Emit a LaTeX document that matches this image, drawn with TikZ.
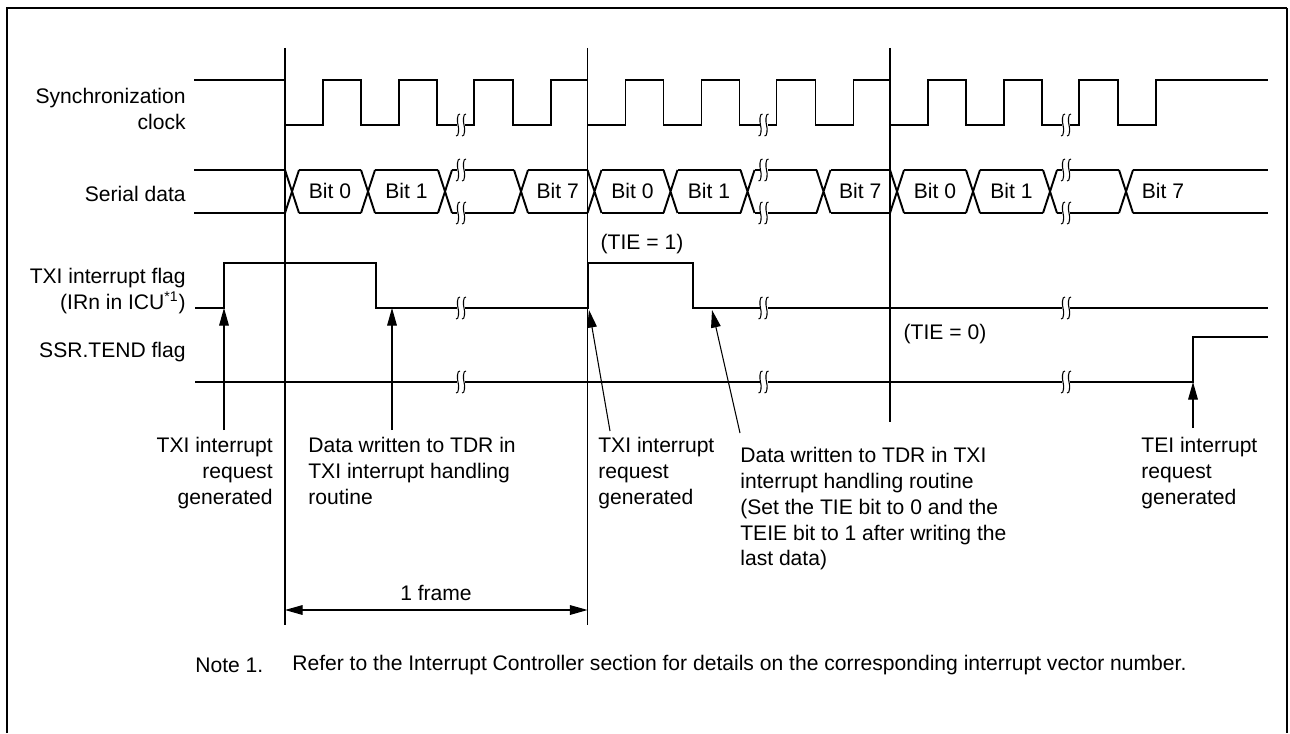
\documentclass[tikz,border=0pt]{standalone}
\usepackage{fontspec}
\setmainfont{Liberation Sans}
\usetikzlibrary{arrows.meta}

\begin{document}
\begin{tikzpicture}[x=0.02cm, y=-0.02cm,
    every node/.style={font=\fontsize{12}{14.7}\selectfont, inner sep=0pt},
    wave/.style={line width=1.1pt, line join=miter},
    guide/.style={line width=0.6pt},
    pointer/.style={line width=0.6pt, -{Triangle[length=10pt, width=5.5pt]}},
    brk/.pic={
        \fill[white] (-1,-4) rectangle (7,4);
        \draw[line width=0.6pt] (2,-11) .. controls (-1,-12) and (-1,-3) .. (0,0) .. controls (1,3) and (1,12) .. (-2,11);
        \draw[line width=0.6pt] (8,-11) .. controls (5,-12) and (5,-3) .. (6,0) .. controls (7,3) and (7,12) .. (4,11);
    }
]
\useasboundingbox (0,0) rectangle (1290,733);

% frame
\draw[line width=1.6pt] (7,733) -- (7,8) -- (1287,8);
\draw[line width=0.8pt] (1287,8) -- (1287,733);

% frame boundaries
\draw[guide] (285,48) -- (285,625);
\draw[guide] (587.5,48) -- (587.5,625);
\draw[guide] (890,48) -- (890,422);

% synchronization clock
\draw[wave] (194,80) \foreach \f in {285,587.5,890} {
    -- (\f,80) -- (\f,125) -- (\f+38,125) -- (\f+38,80) -- (\f+76,80) -- (\f+76,125)
    -- (\f+114,125) -- (\f+114,80) -- (\f+152,80) -- (\f+152,125) -- (\f+189,125) -- (\f+189,80)
    -- (\f+228,80) -- (\f+228,125) -- (\f+266,125) -- (\f+266,80) } -- (1268,80);

% serial data
\draw[wave] (194,170) -- (285,170) (194,213) -- (285,213);
\foreach \c in {292,368,445,521,594.5,670.5,747.5,823.5,897,973,1050,1126}
    \draw[wave] (\c-7,170) -- (\c+7,213) (\c-7,213) -- (\c+7,170);
\foreach \a/\b in {292/368,368/445,445/521,521/594.5,594.5/670.5,670.5/747.5,747.5/823.5,823.5/897,897/973,973/1050,1050/1126}
    \draw[wave] (\a+7,170) -- (\b-7,170) (\a+7,213) -- (\b-7,213);
\draw[wave] (1133,170) -- (1268,170) (1133,213) -- (1268,213);

\foreach \a/\b/\t [count=\i] in {292/368/0,368/445/1,521/594.5/7,594.5/670.5/0,670.5/747.5/1,823.5/897/7,897/973/0,973/1050/1}
    \node (bit\i) at ({(\a+\b)/2},191) {Bit \t};
\node (bit9) at (1163,191) {Bit 7};

% flags
\draw[wave] (195,308) -- (224,308) -- (224,263) -- (376,263) -- (376,308) -- (588,308)
    -- (588,263) -- (693,263) -- (693,308) -- (1268,308);
\draw[wave] (195,382) -- (1193,382) -- (1193,337) -- (1268,337);

% breaks
\foreach \f in {285,587.5,890}
    \foreach \y in {125,170,213,308,382}
        \pic at (\f+173,\y) {brk};

% signal names
\node[anchor=east, align=right] (lblclk) at (186,109) {Synchronization\\clock};
\node[anchor=east] (lbldat) at (186,194) {Serial data};
\node[anchor=east, align=right] (lbltxi) at (186,291) {TXI interrupt flag\\(IRn in ICU\textsuperscript{*1})};
\node[anchor=east] (lbltend) at (186,352) {SSR.TEND flag};

\node (tie1) at (642,244) {(TIE = 1)};
\node (tie0) at (945,334) {(TIE = 0)};

% events
\node[anchor=north east, align=right] (req1) at (273,437) {TXI interrupt\\request\\generated};
\node[anchor=north west, align=left] (wr1) at (308,437) {Data written to TDR in\\TXI interrupt handling\\routine};
\node[anchor=north west, align=left] (req2) at (598,437) {TXI interrupt\\request\\generated};
\node[anchor=north west, align=left] (wr2) at (740,447) {Data written to TDR in TXI\\interrupt handling routine\\(Set the TIE bit to 0 and the\\TEIE bit to 1 after writing the\\last data)};
\node[anchor=north west, align=left] (req3) at (1141,437) {TEI interrupt\\request\\generated};

\coordinate (p1) at (224,430); \coordinate (q1) at (224,308);
\coordinate (p2) at (392,430); \coordinate (q2) at (392,308);
\coordinate (p3) at (610,431); \coordinate (q3) at (589,310);
\coordinate (p4) at (740,433); \coordinate (q4) at (712,310);
\coordinate (p5) at (1193,428); \coordinate (q5) at (1193,382);
\foreach \i in {1,...,5}
    \draw[pointer] (p\i) -- (q\i);

% one frame
\coordinate (fl) at (285,610);
\coordinate (fr) at (587.5,610);
\draw[line width=0.6pt, {Triangle[length=10pt, width=5.5pt]}-{Triangle[length=10pt, width=5.5pt]}] (fl) -- (fr);
\node (frm) at (436,593) {1 frame};

% note
\node[anchor=west] (note) at (195,665) {Note 1.};
\node[anchor=west] (notetxt) at (292,665) {Refer to the Interrupt Controller section for details on the corresponding interrupt vector number.};
\end{tikzpicture}
\end{document}
